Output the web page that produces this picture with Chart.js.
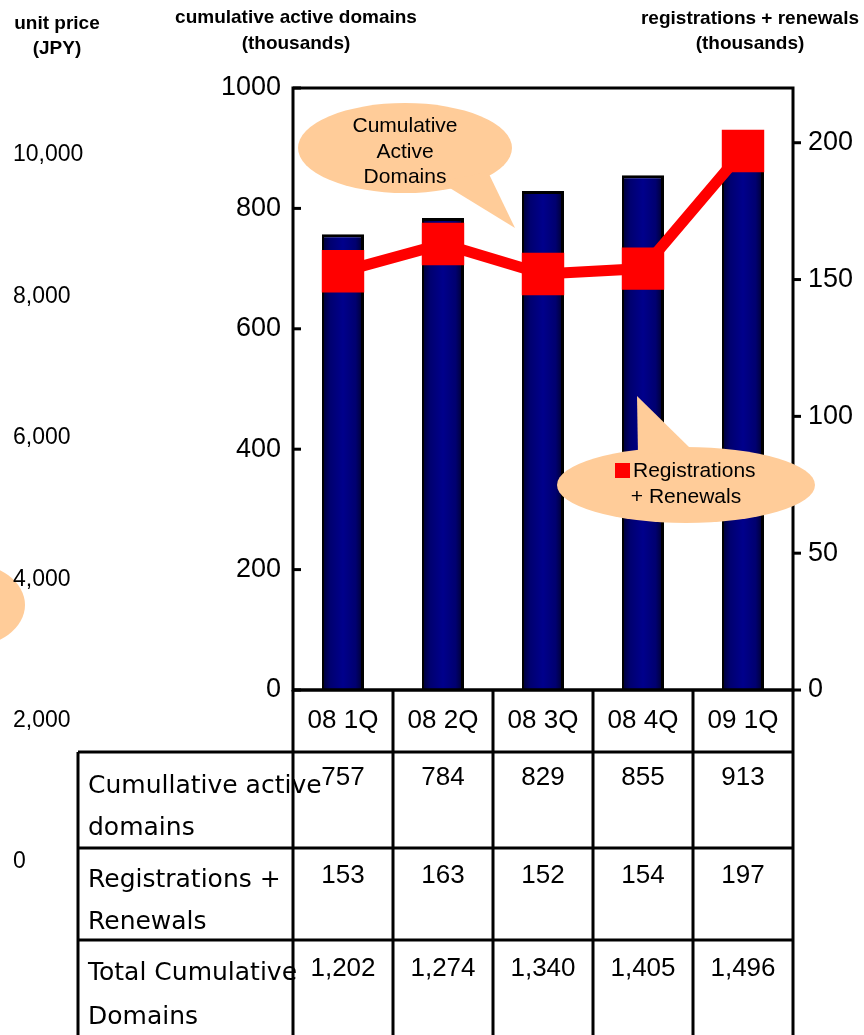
<!DOCTYPE html>
<html>
<head>
<meta charset="utf-8">
<script src="https://cdn.jsdelivr.net/npm/chart.js@4/dist/chart.umd.min.js"></script>
<style>
  html, body { margin: 0; padding: 0; background: #fff; }
  canvas { display: block; }
</style>
</head>
<body>
<canvas id="chart" width="864" height="1035"></canvas>
<script>
// Data for the chart
const quarters = ['08 1Q', '08 2Q', '08 3Q', '08 4Q', '09 1Q'];
const activeDomains = [757, 784, 829, 855, 913];
const registrations = [153, 163, 152, 154, 197];
const totalDomains = ['1,202', '1,274', '1,340', '1,405', '1,496'];
const unitPriceTicks = ['10,000', '8,000', '6,000', '4,000', '2,000', '0'];

const rowLabels = [
    ['Cumullative active', 'domains'],
    ['Registrations +', 'Renewals'],
    ['Total Cumulative', 'Domains']
];

const PEACH = '#FFCC99';
const sans = '"Liberation Sans", Arial, sans-serif';
const wide = '"DejaVu Sans", sans-serif';

function fmt(n) {
    return n.toLocaleString('en-US');
}

// Callout bubble: ellipse plus a triangular tail
function bubble(ctx, cx, cy, rx, ry, tail) {
    ctx.save();
    ctx.fillStyle = PEACH;
    ctx.beginPath();
    ctx.ellipse(cx, cy, rx, ry, 0, 0, Math.PI * 2);
    ctx.fill();
    ctx.beginPath();
    ctx.moveTo(tail[0][0], tail[0][1]);
    ctx.lineTo(tail[1][0], tail[1][1]);
    ctx.lineTo(tail[2][0], tail[2][1]);
    ctx.closePath();
    ctx.fill();
    ctx.restore();
}

const decorations = {
    id: 'decorations',
    beforeDraw(chart) {
        const ctx = chart.ctx;
        ctx.save();
        ctx.fillStyle = '#fff';
        ctx.fillRect(0, 0, chart.width, chart.height);
        ctx.restore();
    },
    afterDatasetsDraw(chart) {
        const ctx = chart.ctx;
        const area = chart.chartArea;
        const yL = chart.scales.y;
        const yR = chart.scales.y2;

        ctx.save();
        // plot frame
        ctx.strokeStyle = '#000';
        ctx.lineWidth = 3;
        ctx.strokeRect(area.left, area.top, area.right - area.left, area.bottom - area.top);

        // tick marks: inside on the left, outside on the right
        yL.ticks.forEach(t => {
            const y = yL.getPixelForValue(t.value);
            ctx.beginPath();
            ctx.moveTo(area.left, y);
            ctx.lineTo(area.left + 8, y);
            ctx.stroke();
        });
        yR.ticks.forEach(t => {
            const y = yR.getPixelForValue(t.value);
            ctx.beginPath();
            ctx.moveTo(area.right, y);
            ctx.lineTo(area.right + 8, y);
            ctx.stroke();
        });

        // callouts
        bubble(ctx, 405, 148, 107, 45, [[440, 182], [488, 172], [515, 228]]);
        ctx.fillStyle = '#000';
        ctx.font = '21px ' + sans;
        ctx.textAlign = 'center';
        ctx.textBaseline = 'middle';
        ctx.fillText('Cumulative', 405, 126);
        ctx.fillText('Active', 405, 152);
        ctx.fillText('Domains', 405, 177);

        bubble(ctx, 686, 485, 129, 38, [[637, 396], [638, 455], [690, 448]]);
        ctx.fillStyle = '#FF0000';
        ctx.fillRect(615, 463, 15, 15);
        ctx.fillStyle = '#000';
        ctx.textAlign = 'left';
        ctx.fillText('Registrations', 633, 471);
        ctx.textAlign = 'center';
        ctx.fillText('+ Renewals', 686, 497);

        // partial bubble at far left
        ctx.fillStyle = PEACH;
        ctx.beginPath();
        ctx.ellipse(-32, 605, 57, 42, 0, 0, Math.PI * 2);
        ctx.fill();
        ctx.restore();
    },
    afterDraw(chart) {
        const ctx = chart.ctx;
        const area = chart.chartArea;
        const x = chart.scales.x;

        ctx.save();
        ctx.fillStyle = '#000';
        ctx.textBaseline = 'middle';

        // axis titles
        ctx.textAlign = 'center';
        ctx.font = 'bold 19px ' + sans;
        ctx.fillText('unit price', 57, 24);
        ctx.fillText('(JPY)', 57, 49);
        ctx.fillText('cumulative active domains', 296, 18);
        ctx.fillText('(thousands)', 296, 44);
        ctx.fillText('registrations + renewals', 750, 19);
        ctx.fillText('(thousands)', 750, 44);

        // phantom unit price axis
        ctx.textAlign = 'left';
        ctx.font = '23px ' + sans;
        unitPriceTicks.forEach((label, i) => {
            ctx.fillText(label, 13, 155 + i * 141.4);
        });

        // data table
        const half = (x.getPixelForValue(1) - x.getPixelForValue(0)) / 2;
        const tableLeft = 78;
        const rows = [area.bottom, 752, 848, 940, 1035];
        ctx.strokeStyle = '#000';
        ctx.lineWidth = 3;
        ctx.beginPath();
        // horizontal lines
        ctx.moveTo(area.left, rows[0]); ctx.lineTo(area.right, rows[0]);
        for (let r = 1; r < rows.length - 1; r++) {
            ctx.moveTo(tableLeft, rows[r]); ctx.lineTo(area.right, rows[r]);
        }
        // vertical lines
        ctx.moveTo(tableLeft, rows[1]); ctx.lineTo(tableLeft, rows[4]);
        for (let i = 0; i <= quarters.length; i++) {
            const xx = i < quarters.length ? x.getPixelForValue(i) - half : x.getPixelForValue(i - 1) + half;
            ctx.moveTo(xx, rows[0]); ctx.lineTo(xx, rows[4]);
        }
        ctx.stroke();

        ctx.font = '26px ' + sans;
        ctx.textAlign = 'center';
        quarters.forEach((q, i) => {
            const cx = x.getPixelForValue(i);
            ctx.fillText(q, cx, 721);
            ctx.fillText(fmt(activeDomains[i]), cx, 778);
            ctx.fillText(fmt(registrations[i]), cx, 876);
            ctx.fillText(totalDomains[i], cx, 969);
        });

        ctx.textAlign = 'left';
        ctx.font = '25px ' + wide;
        const rowY = [[786, 828], [880, 922], [973, 1017]];
        rowLabels.forEach((lines, r) => {
            lines.forEach((t, k) => ctx.fillText(t, 88, rowY[r][k]));
        });
        ctx.restore();
    }
};

function barGradient(context) {
    const chart = context.chart;
    if (!chart.chartArea) return '#000080';
    const cx = chart.scales.x.getPixelForValue(context.dataIndex);
    const g = chart.ctx.createLinearGradient(cx - 21, 0, cx + 21, 0);
    g.addColorStop(0, '#000030');
    g.addColorStop(0.2, '#000070');
    g.addColorStop(0.5, '#00008C');
    g.addColorStop(0.8, '#000070');
    g.addColorStop(1, '#000028');
    return g;
}

const ctx = document.getElementById('chart').getContext('2d');
new Chart(ctx, {
    data: {
        labels: quarters,
        datasets: [{
            type: 'line',
            label: 'Registrations + Renewals',
            data: registrations,
            yAxisID: 'y2',
            borderColor: '#FF0000',
            backgroundColor: '#FF0000',
            borderWidth: 11,
            pointStyle: 'rect',
            pointRadius: 30,
            pointBorderWidth: 0,
            tension: 0,
            order: 0
        }, {
            type: 'bar',
            label: 'Cumulative Active Domains',
            data: activeDomains,
            yAxisID: 'y',
            backgroundColor: barGradient,
            borderColor: '#000',
            borderWidth: { top: 3, left: 2, right: 3, bottom: 0 },
            categoryPercentage: 1,
            barPercentage: 0.42,
            order: 1
        }]
    },
    options: {
        responsive: false,
        devicePixelRatio: 1,
        animation: false,
        layout: { padding: { left: 200, right: 0, top: 88, bottom: 345 } },
        plugins: {
            legend: { display: false },
            tooltip: { enabled: false }
        },
        scales: {
            x: { display: false },
            y: {
                position: 'left',
                min: 0,
                max: 1000,
                ticks: {
                    stepSize: 200,
                    padding: 12,
                    color: '#000',
                    font: { family: sans, size: 27 },
                    callback: v => String(v)
                },
                grid: { display: false, drawTicks: false },
                border: { display: false },
                afterFit: s => { s.width = 93; }
            },
            y2: {
                position: 'right',
                min: 0,
                max: 220,
                ticks: {
                    stepSize: 50,
                    includeBounds: false,
                    padding: 15,
                    color: '#000',
                    font: { family: sans, size: 27 },
                    callback: v => String(v)
                },
                grid: { display: false, drawTicks: false },
                border: { display: false },
                afterFit: s => { s.width = 71; }
            }
        }
    },
    plugins: [decorations]
});
</script>
</body>
</html>
